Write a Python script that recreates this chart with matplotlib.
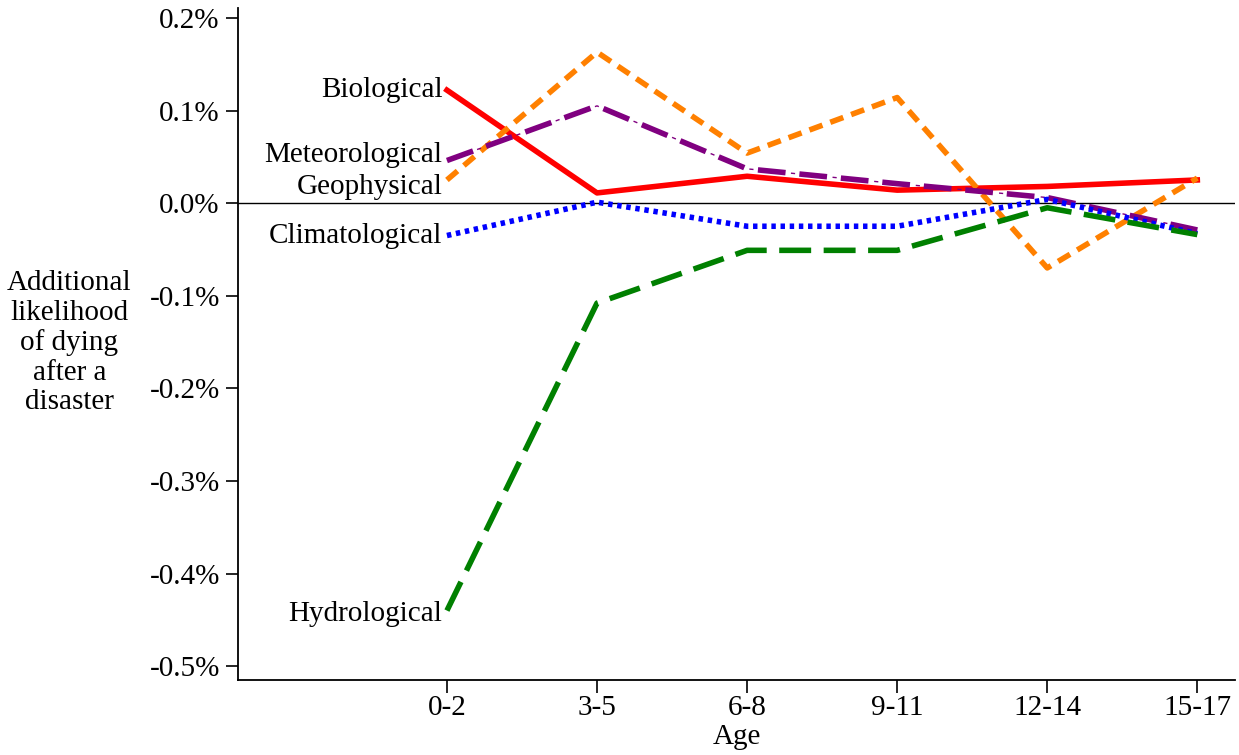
import numpy as np
import matplotlib
matplotlib.use('Agg')
import matplotlib.pyplot as plt

plt.rcParams['font.family'] = ['Liberation Serif', 'DejaVu Serif']
plt.rcParams['lines.scale_dashes'] = False

ages = ['0-2', '3-5', '6-8', '9-11', '12-14', '15-17']
biological = [0.122, 0.011, 0.029, 0.014, 0.018, 0.025]
geophysical = [0.025, 0.163, 0.054, 0.114, -0.070, 0.027]
meteorological = [0.046, 0.105, 0.037, 0.021, 0.006, -0.029]
climatological = [-0.035, 0.001, -0.025, -0.025, 0.004, -0.033]
hydrological = [-0.440, -0.108, -0.051, -0.051, -0.005, -0.034]

x = np.arange(len(ages))

fig = plt.figure(figsize=(12.39, 7.55), dpi=100)
ax = fig.add_axes([0.192, 0.0993, 0.805, 0.89])

ax.axhline(0, color='black', lw=1.0, zorder=1)

lw = 4.0
ax.plot(x, biological, color='#FF0000', lw=lw, zorder=3)
ax.plot(x, geophysical, color='#FF8000', lw=lw, dashes=(10, 6), zorder=3)
# long dash + thin dot pattern for meteorological
ax.plot(x, meteorological, color='#800080', lw=lw, dashes=(20, 10), zorder=3)
ax.plot(x, meteorological, color='#800080', lw=1.0, dashes=(0.1, 23, 3, 4), zorder=3)
ax.plot(x, climatological, color='#0000FF', lw=lw, dashes=(3.2, 3.4), zorder=3)
ax.plot(x, hydrological, color='#008000', lw=lw, dashes=(23, 9), zorder=3)

fs = 21
labels = [('Biological', biological[0], 0.0),
          ('Meteorological', meteorological[0], 0.006),
          ('Geophysical', geophysical[0], -0.008),
          ('Climatological', climatological[0], 0.0),
          ('Hydrological', hydrological[0], -0.004)]
for name, yv, dy in labels:
    ax.text(x[0] - 0.03, yv + dy, name, ha='right', va='center', fontsize=fs)

ax.set_xlim(-1.393, 5.253)
ax.set_ylim(-0.515, 0.2106)
ax.set_xticks(x)
ax.set_xticklabels(ages, fontsize=fs)
yt = [0.2, 0.1, 0.0, -0.1, -0.2, -0.3, -0.4, -0.5]
ax.set_yticks(yt)
ax.set_yticklabels([f'{v:.1f}%' for v in yt], fontsize=fs)
ax.tick_params(axis='both', direction='out', length=9, width=1.2, colors='black')
ax.tick_params(axis='x', pad=2)
ax.tick_params(axis='y', pad=4)

ax.spines['top'].set_visible(False)
ax.spines['right'].set_visible(False)
ax.spines['left'].set_linewidth(1.3)
ax.spines['bottom'].set_linewidth(1.3)

ax.set_xlabel('Age', fontsize=fs, labelpad=2)
fig.text(0.056, 0.546, 'Additional\nlikelihood\nof dying\nafter a\ndisaster',
         ha='center', va='center', fontsize=fs, linespacing=1.17)

fig.savefig('out.png', dpi=100)
